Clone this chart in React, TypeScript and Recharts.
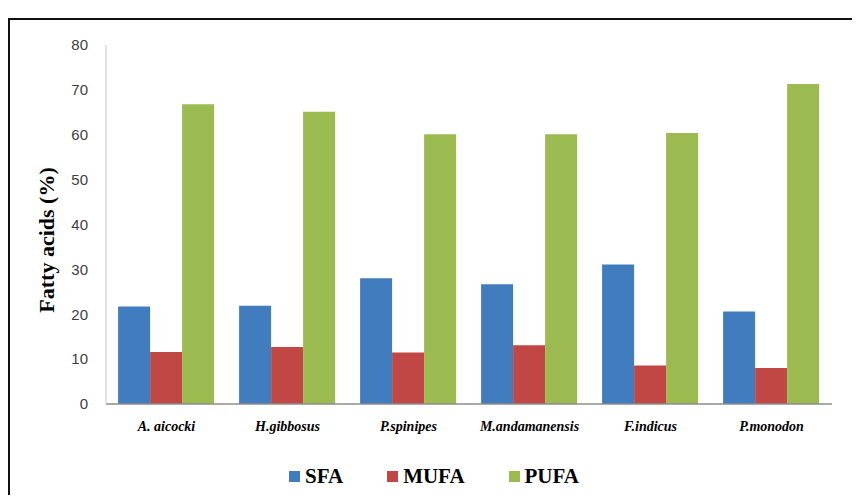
import { Bar, BarChart, Label, Legend, XAxis, YAxis } from 'recharts'

const species = ['A. aicocki', 'H.gibbosus', 'P.spinipes', 'M.andamanensis', 'F.indicus', 'P.monodon']
const sfa = [21.7, 21.9, 28.0, 26.7, 31.1, 20.6]
const mufa = [11.6, 12.7, 11.5, 13.1, 8.6, 8.0]
const pufa = [66.8, 65.1, 60.1, 60.1, 60.4, 71.3]
const yTicks = [0, 10, 20, 30, 40, 50, 60, 70, 80]

const SERIES = [
  { key: 'SFA', color: '#407CBE' },
  { key: 'MUFA', color: '#C04744' },
  { key: 'PUFA', color: '#9BBA50' },
]

const data = species.map((name, i) => ({ name, SFA: sfa[i], MUFA: mufa[i], PUFA: pufa[i] }))

const serif = '"Liberation Serif", "Times New Roman", serif'

function YTitle() {
  return (
    <text
      x={38}
      y={232}
      transform="rotate(-90 38 232)"
      textAnchor="middle"
      dominantBaseline="central"
      fontFamily={serif}
      fontWeight="bold"
      fontSize={22}
      fill="#000"
    >
      Fatty acids (%)
    </text>
  )
}

function LegendBox() {
  return (
    <div style={{ display: 'flex', justifyContent: 'center', gap: 44, height: 28, alignItems: 'center' }}>
      {SERIES.map((s) => (
        <div key={s.key} style={{ display: 'flex', alignItems: 'center' }}>
          <span style={{ width: 11, height: 11, background: s.color, marginRight: 5, display: 'inline-block' }} />
          <span style={{ fontFamily: serif, fontWeight: 'bold', fontSize: 21, color: '#000' }}>{s.key}</span>
        </div>
      ))}
    </div>
  )
}

export default function App() {
  return (
    <div style={{ position: 'relative', width: 852, height: 495, marginBottom: -8, overflow: 'hidden', background: '#fff' }}>
      <div
        style={{
          position: 'absolute',
          left: 0,
          top: 10,
          width: 900,
          height: 600,
          borderLeft: '2px solid #111',
          borderTop: '2px solid #111',
        }}
      />
      <div style={{ position: 'absolute', left: 0, top: 0 }}>
        <BarChart
          width={852}
          height={495}
          data={data}
          margin={{ top: 37, right: 28, left: 38, bottom: 59 }}
          barCategoryGap="10%"
          barGap={0}
        >
          <XAxis
            dataKey="name"
            height={40}
            tickLine={false}
            tickSize={0}
            tickMargin={17}
            axisLine={{ stroke: '#8c8c8c', strokeWidth: 1.5 }}
            tick={{ fontFamily: serif, fontStyle: 'italic', fontWeight: 'bold', fontSize: 14, fill: '#000' }}
            interval={0}
          />
          <YAxis
            width={60}
            domain={[0, 80]}
            ticks={yTicks}
            tickLine={false}
            tickSize={0}
            tickMargin={18}
            axisLine={{ stroke: '#c4c4c4' }}
            tick={{ fontFamily: '"Liberation Sans", Arial, sans-serif', fontSize: 15, fill: '#404040' }}
          >
            <Label content={<YTitle />} />
          </YAxis>
          <Legend
            layout="horizontal"
            verticalAlign="middle"
            align="center"
            content={<LegendBox />}
            wrapperStyle={{ top: 454, left: 0, width: 852 }}
          />
          {SERIES.map((s) => (
            <Bar key={s.key} dataKey={s.key} fill={s.color} isAnimationActive={false} />
          ))}
        </BarChart>
      </div>
    </div>
  )
}
